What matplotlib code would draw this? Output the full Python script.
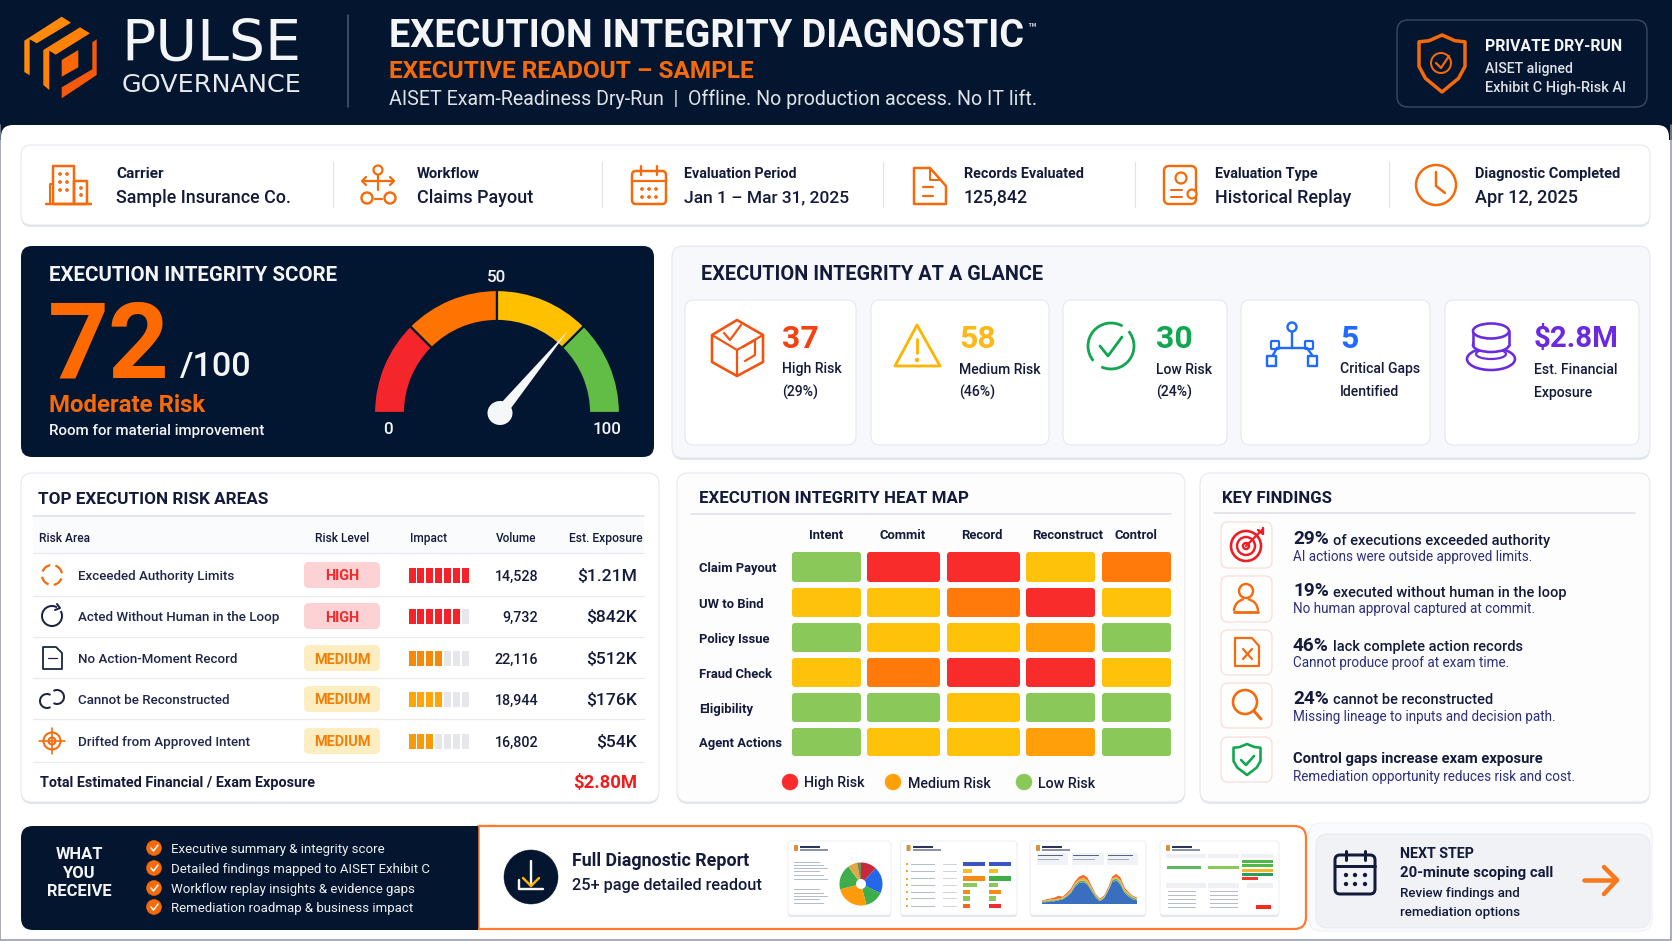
import matplotlib
matplotlib.use("Agg")
import numpy as np
import matplotlib.pyplot as plt
from matplotlib.patches import FancyBboxPatch, Circle, Wedge, Polygon, Ellipse, Arc, Rectangle

# ---- data ----
info_labels = ["Carrier", "Workflow", "Evaluation Period", "Records Evaluated", "Evaluation Type", "Diagnostic Completed"]
info_values = ["Sample Insurance Co.", "Claims Payout", "Jan 1 – Mar 31, 2025", "125,842", "Historical Replay", "Apr 12, 2025"]

score = 72
gauge_stops = [0, 25, 50, 75, 100]
gauge_ticks = [0, 50, 100]

glance_numbers = ["37", "58", "30", "5", "$2.8M"]
glance_line1 = ["High Risk", "Medium Risk", "Low Risk", "Critical Gaps", "Est. Financial"]
glance_line2 = ["(29%)", "(46%)", "(24%)", "Identified", "Exposure"]

risk_areas = ["Exceeded Authority Limits", "Acted Without Human in the Loop", "No Action-Moment Record",
              "Cannot be Reconstructed", "Drifted from Approved Intent"]
risk_levels = ["HIGH", "HIGH", "MEDIUM", "MEDIUM", "MEDIUM"]
impact_filled = [7, 6, 4, 4, 3]
impact_total = 7
volumes = ["14,528", "9,732", "22,116", "18,944", "16,802"]
exposures = ["$1.21M", "$842K", "$512K", "$176K", "$54K"]
total_exposure = "$2.80M"

heat_rows = ["Claim Payout", "UW to Bind", "Policy Issue", "Fraud Check", "Eligibility", "Agent Actions"]
heat_cols = ["Intent", "Commit", "Record", "Reconstruct", "Control"]
# 0 green, 1 yellow, 2 amber, 3 orange, 4 red
heat_values = [[0, 4, 4, 1, 3],
               [1, 1, 3, 4, 1],
               [0, 1, 1, 2, 0],
               [1, 3, 4, 4, 1],
               [0, 0, 1, 0, 0],
               [0, 1, 1, 2, 0]]

finding_pct = ["29%", "19%", "46%", "24%"]
finding_head = ["of executions exceeded authority", "executed without human in the loop",
                "lack complete action records", "cannot be reconstructed"]
finding_sub = ["AI actions were outside approved limits.", "No human approval captured at commit.",
               "Cannot produce proof at exam time.", "Missing lineage to inputs and decision path.",
               "Remediation opportunity reduces risk and cost."]

receive_items = ["Executive summary & integrity score", "Detailed findings mapped to AISET Exhibit C",
                 "Workflow replay insights & evidence gaps", "Remediation roadmap & business impact"]

pie_shares = [12, 20, 14, 25, 19, 7, 3]
area_blue = [2, 2, 3, 3, 4, 5, 8, 12, 19, 23, 24, 21, 14, 7, 3, 6, 14, 24, 26, 21, 12, 8, 5, 4]
area_green = [1, 1, 1, 1, 1, 1, 1, 1, 2, 2, 2, 2, 2, 2, 1, 1, 1, 2, 2, 2, 2, 2, 2, 1]
area_yellow = [1, 1, 1, 1, 1, 1, 1, 2, 2, 2, 3, 3, 2, 1, 1, 1, 1, 2, 2, 3, 2, 2, 1, 1]
area_orange = [0, 1, 1, 2, 3, 1, 2, 2, 2, 3, 3, 3, 2, 1, 1, 1, 2, 2, 3, 3, 2, 1, 1, 1]

# ---- colours ----
NAVY = "#04162f"
INK = "#141a3a"
ORANGE = "#f56a0a"
RED = "#f42a2a"
GREEN = "#12a650"
BLUE = "#1f6bff"
PURPLE = "#6a2be0"
AMBER = "#ffb400"
LINE = "#e4e6ec"
heat_colors = ["#8bc85a", "#ffc20a", "#ffa00a", "#ff7a0a", "#f92c2c"]
gauge_colors = ["#f5262b", "#ff7300", "#ffc000", "#62bd47"]

plt.rcParams["font.family"] = ["Roboto", "DejaVu Sans"]

fig = plt.figure(figsize=(16.72, 9.41), dpi=100)
ax = fig.add_axes([0, 0, 1, 1])
ax.set_xlim(0, 1672)
ax.set_ylim(941, 0)
ax.axis("off")
renderer = fig.canvas.get_renderer()


def T(x, y, s, px, c=INK, w="medium", ha="left", fit=None, z=10, fam=None):
    t = ax.text(x, y + 1.5, s, fontsize=px * 0.72, color=c, fontweight=w, ha=ha, va="center", zorder=z)
    if fam:
        t.set_family(fam)
    if fit:
        t.set_fontsize(t.get_fontsize() * fit / t.get_window_extent(renderer).width)
    return t


def rbox(x0, y0, x1, y1, r=8, fc="white", ec="none", lw=1, z=2, shadow=False):
    if shadow:
        rbox(x0, y0 + 2, x1, y1 + 2, r, fc="#e3e5ec", z=z)
    ax.add_patch(FancyBboxPatch((x0 + r, y0 + r), x1 - x0 - 2 * r, y1 - y0 - 2 * r,
                                boxstyle=f"round,pad={r},rounding_size={r}",
                                fc=fc, ec=ec, lw=lw * 0.72, zorder=z))


def line(pts, c, lw=2, z=6):
    xs, ys = zip(*pts)
    ax.plot(xs, ys, color=c, lw=lw * 0.72, zorder=z, solid_capstyle="round", solid_joinstyle="round")


def ring(x, y, r, c, lw=2, fc="none", z=6):
    ax.add_patch(Circle((x, y), r, fc=fc, ec=c, lw=lw * 0.72, zorder=z))


def arc(x, y, r, a0, a1, c, lw=2, z=6):
    ax.add_patch(Arc((x, y), 2 * r, 2 * r, theta1=a0, theta2=a1, ec=c, lw=lw * 0.72, zorder=z))


def poly(pts, fc="none", ec="none", lw=2, z=6):
    ax.add_patch(Polygon(pts, closed=True, fc=fc, ec=ec, lw=lw * 0.72, zorder=z, joinstyle="round"))


def shield(cx, top, w, h, c, lw=3, fc="none"):
    pts = [(cx, top), (cx + w * .28, top + h * .10), (cx + w / 2, top + h * .12), (cx + w / 2, top + h * .55),
           (cx + w * .36, top + h * .76), (cx, top + h), (cx - w * .36, top + h * .76), (cx - w / 2, top + h * .55),
           (cx - w / 2, top + h * .12), (cx - w * .28, top + h * .10)]
    poly(pts, fc=fc, ec=c, lw=lw)


# ---- page ----
fig.patch.set_facecolor("white")
ax.add_patch(Rectangle((0, 0), 1672, 140, fc=NAVY, ec="none", zorder=0))
rbox(1, 125, 1669, 980, r=12, fc="white", z=1)
line([(0, 125), (0, 940), (1671, 940), (1671, 125)], "#8e94a3", 1.5, z=1.5)

# ---- header ----
logo_a = [(24.3, 40.7), (61.7, 16.7), (71, 22.7), (36.7, 43.3), (29.7, 39.3), (29.7, 75.3), (24.3, 72)]
logo_b = [(43.3, 50), (80, 27.3), (90, 33.3), (55.7, 54.7), (49.3, 50.7), (49.3, 90), (43.3, 85)]
logo_c = [(61.7, 60), (78.3, 50), (78.3, 67.3), (61.7, 76.7)]
logo_d = [(96.7, 39.3), (96.7, 75), (61.7, 98.3), (61.7, 87.3), (87.7, 72), (92.3, 69.3), (92.3, 42.3)]
poly(logo_a, fc="#ff8a0c")
poly(logo_b, fc="#ff8206")
poly(logo_c, fc="#f9670a")
poly(logo_d, fc="#f6590c")
T(121, 44, "PULSE", 54, "#f4f5f7", fit=180, fam="DejaVu Sans", w="normal")
T(122, 83, "GOVERNANCE", 23, "#e8eaee", fit=180, fam="DejaVu Sans", w="normal")
line([(348, 15), (348, 107)], "#4c5a70", 1.5)
T(389, 35, "EXECUTION INTEGRITY DIAGNOSTIC", 36, "#f4f5f7", "bold", fit=636)
T(1027, 27, "™", 14, "#d0d4da", "bold")
T(389, 70, "EXECUTIVE READOUT – SAMPLE", 24, ORANGE, "bold", fit=366)
T(389, 98, "AISET Exam-Readiness Dry-Run  |  Offline. No production access. No IT lift.", 19, "#dfe3e8", fit=651, w="normal")
rbox(1397, 20, 1647, 107, r=11, fc=NAVY, ec="#36465c", lw=1.5)
shield(1442, 35, 46, 57, ORANGE, 3.5)
ring(1441, 63, 10, ORANGE, 2)
line([(1436, 63), (1441, 68), (1449, 56)], ORANGE, 2.2)
T(1485, 45, "PRIVATE DRY-RUN", 15.5, "#f4f5f7", "bold", fit=137)
T(1485, 67, "AISET aligned", 14, "#dfe3e8", fit=88)
T(1485, 86, "Exhibit C High-Risk AI", 14, "#dfe3e8", fit=141)

# ---- info strip ----
rbox(21, 145, 1650, 225, r=10, ec=LINE, shadow=True)
info_x = [116, 417, 684, 964, 1215, 1475]
info_fit = [48, 63, 113, 121, 103, 146]
value_fit = [175, 116, 165, 64, 136, 103]
for x, a, b, f1, f2 in zip(info_x, info_labels, info_values, info_fit, value_fit):
    T(x, 172, a, 14, INK, "bold", fit=f1)
    T(x, 196, b, 18, INK, fit=f2)
for x in [333, 602, 883, 1135, 1389]:
    line([(x, 162), (x, 207)], "#e2e4ea", 1.2)

# building
line([(46, 204), (91, 204)], ORANGE, 2.5)
poly([(53, 204), (53, 166), (74, 166), (74, 204)], ec=ORANGE, lw=2.5)
poly([(74, 181), (87, 181), (87, 204), (74, 204)], ec=ORANGE, lw=2.5)
line([(50, 204), (50, 184), (53, 184)], ORANGE, 2)
for wx in (60, 67):
    for wy in (174, 182, 190):
        ring(wx, wy, 1.1, ORANGE, 1.5, ORANGE)
for wy in (188, 195):
    ring(81, wy, 1.1, ORANGE, 1.5, ORANGE)
# workflow
ring(378, 170, 4.5, ORANGE, 2.2)
line([(378, 175), (378, 190)], ORANGE, 2.2)
line([(364, 181), (392, 181)], ORANGE, 2.2)
line([(366, 177), (362, 181), (366, 185)], ORANGE, 2.2)
line([(390, 177), (394, 181), (390, 185)], ORANGE, 2.2)
ring(367, 198, 5.5, ORANGE, 2.4)
ring(390, 198, 5.5, ORANGE, 2.4)
line([(375, 199), (382, 199)], ORANGE, 2.2)
# calendar
rbox(632, 171, 666, 204, r=4, fc="none", ec=ORANGE, lw=2.5, z=6)
line([(632, 181), (666, 181)], ORANGE, 2.2)
line([(641, 166), (641, 175)], ORANGE, 2.2)
line([(657, 166), (657, 175)], ORANGE, 2.2)
for dx in (642, 649, 656):
    for dy in (189, 197):
        ring(dx, dy, 1.1, ORANGE, 1.5, ORANGE)
# document
poly([(914, 168), (930, 168), (946, 186), (946, 204), (914, 204)], ec=ORANGE, lw=2.5)
line([(930, 168), (930, 180), (941, 180)], ORANGE, 2)
line([(923, 187), (933, 187)], ORANGE, 2.2)
line([(923, 196), (933, 196)], ORANGE, 2.2)
# evaluation type
rbox(1164, 166, 1196, 204, r=5, fc="white", ec=ORANGE, lw=2.4, z=6)
ring(1181, 178, 5.5, ORANGE, 2.2)
line([(1171, 190), (1182, 190)], ORANGE, 2)
line([(1171, 197), (1182, 197)], ORANGE, 2)
ring(1192, 194, 4.5, ORANGE, 2.2, fc="white", z=7)
# clock
ring(1436, 185, 20, ORANGE, 2.5)
line([(1436, 172), (1436, 186), (1445, 193)], ORANGE, 2.5)

# ---- score card ----
rbox(21, 246, 654, 457, r=11, fc="#031631")
T(49, 274, "EXECUTION INTEGRITY SCORE", 20, "#f4f5f7", "bold", fit=289)
T(48, 347, str(score), 100, "#ff6a00", "bold", fit=122)
T(180, 365, "/100", 35, "#f4f5f7", fit=72)
T(49, 404, "Moderate Risk", 24, ORANGE, "bold", fit=156)
T(49, 429, "Room for material improvement", 16, "#f4f5f7", fit=217)

gauge_c = (497, 413)
for v0, v1, col in zip(gauge_stops[:-1], gauge_stops[1:], gauge_colors):
    ax.add_patch(Wedge(gauge_c, 123, 180 + 1.8 * v0, 180 + 1.8 * v1, width=31, fc=col, ec="#031631", lw=1.6, zorder=4))
tip_a = np.radians(180 + 1.8 * score)
hub = (500, 413)
tip = (hub[0] + 107 * np.cos(tip_a), hub[1] + 107 * np.sin(tip_a))
nx, ny = -np.sin(tip_a), np.cos(tip_a)
poly([(hub[0] + 6 * nx, hub[1] + 6 * ny), tip, (hub[0] - 6 * nx, hub[1] - 6 * ny)], fc="#f6f7f9", z=7)
ax.add_patch(Ellipse(hub, 25, 24, fc="#f6f7f9", zorder=8))
for v, pos in zip(gauge_ticks, [(388, 428), (497, 276), (607, 428)]):
    T(pos[0], pos[1], str(v), 17, "#f4f5f7", ha="center")

# ---- at a glance ----
rbox(672, 246, 1650, 458, r=11, fc="#f7f8fb", ec=LINE, shadow=True)
T(701, 273, "EXECUTION INTEGRITY AT A GLANCE", 20, INK, "bold", fit=343)
card_x = [(685, 856), (871, 1049), (1063, 1227), (1241, 1430), (1445, 1639)]
num_x = [782, 959, 1156, 1340, 1534]
num_c = ["#f4410f", "#ffb81a", GREEN, BLUE, PURPLE]
for (x0, x1), nx0, col, n, a, b in zip(card_x, num_x, num_c, glance_numbers, glance_line1, glance_line2):
    rbox(x0, 300, x1, 445, r=9, fc="white", ec=LINE, z=3)
    T(nx0, 338, n, 32, col, "bold", fit=85 if len(n) > 2 else None)
    T(nx0, 368, a, 14, INK)
    T(nx0, 391, b, 14, INK)
# box
poly([(737, 320), (763, 335), (763, 362), (737, 376), (712, 362), (712, 335)], ec="#f4530f", lw=2.6)
line([(712, 335), (737, 350), (763, 335)], "#f4530f", 2.2)
line([(737, 350), (737, 376)], "#f4530f", 2.2)
line([(724, 333), (730, 340), (741, 325)], "#f4530f", 2.2)
line([(743, 347), (755, 340), (755, 355), (745, 361)], "#f4530f", 2.2)
# warning triangle
poly([(917, 325), (940, 366), (895, 366)], ec=AMBER, lw=2.8)
line([(917, 339), (917, 353)], AMBER, 2.8)
ring(917, 360, 1.2, AMBER, 2, AMBER)
# check circle
arc(1111, 346, 23, 140, 300, GREEN, 2.8)
arc(1111, 346, 23, 320, 115, GREEN, 2.8)
line([(1100, 346), (1108, 356), (1122, 337)], GREEN, 2.8)
# network
ring(1292, 327, 4.5, BLUE, 2.4)
line([(1292, 332), (1292, 348)], BLUE, 2.4)
line([(1277, 348), (1307, 348)], BLUE, 2.4)
line([(1277, 348), (1273, 355)], BLUE, 2.4)
line([(1307, 348), (1312, 355)], BLUE, 2.4)
poly([(1267, 356), (1276, 356), (1276, 366), (1267, 366)], ec=BLUE, lw=2.4)
poly([(1308, 356), (1317, 356), (1317, 366), (1308, 366)], ec=BLUE, lw=2.4)
rbox(1271, 341, 1279, 349, r=1, fc="none", ec=BLUE, lw=2.2, z=6)
rbox(1305, 341, 1313, 349, r=1, fc="none", ec=BLUE, lw=2.2, z=6)
# coins
ax.add_patch(Ellipse((1491, 359), 48, 22, fc="white", ec=PURPLE, lw=2.6 * 0.72, zorder=6))
ax.add_patch(Ellipse((1491, 354), 30, 10, fc="none", ec=PURPLE, lw=2.2 * 0.72, zorder=7))
ax.add_patch(Ellipse((1491, 345), 36, 14, fc="white", ec=PURPLE, lw=2.6 * 0.72, zorder=7))
ax.add_patch(Rectangle((1473, 331), 36, 14, fc="white", ec="none", zorder=7.1))
line([(1473, 331), (1473, 345)], PURPLE, 2.6, z=7.2)
line([(1509, 331), (1509, 345)], PURPLE, 2.6, z=7.2)
ax.add_patch(Ellipse((1491, 331), 36, 15, fc="white", ec=PURPLE, lw=2.6 * 0.72, zorder=7.3))

# ---- risk table ----
rbox(21, 473, 659, 802, r=11, ec=LINE, shadow=True)
T(38, 498, "TOP EXECUTION RISK AREAS", 16.5, INK, "bold", fit=230)
line([(33, 516), (644, 516)], "#dcdfe5", 1.5)
ax.add_patch(Rectangle((33, 517), 611, 36, fc="#fafbfc", ec="none", zorder=3))
T(39, 537, "Risk Area", 13, INK, fit=51)
T(342, 537, "Risk Level", 13, INK, ha="center", fit=54)
T(410, 537, "Impact", 13, INK, fit=37)
T(516, 537, "Volume", 13, INK, ha="center", fit=40)
T(643, 537, "Est. Exposure", 13, INK, ha="right", fit=74)
for y in [553, 596, 637, 678, 719, 762]:
    line([(33, y), (644, y)], "#e8eaef", 1.2, z=4)
row_y = [575, 616, 658, 699, 741]
badge_fill = {"HIGH": "#fdd2d5", "MEDIUM": "#fdeec2"}
badge_text = {"HIGH": "#ef2b2d", "MEDIUM": "#f57f06"}
bar_cols = ["#f5222a", "#f5222a", "#f58a0a", "#ffa50a", "#f99a0a"]
for y, name, lvl, n, vol, exp, bc in zip(row_y, risk_areas, risk_levels, impact_filled, volumes, exposures, bar_cols):
    T(78, y, name, 13.4, "#20264a")
    rbox(304, y - 13, 380, y + 13, r=5, fc=badge_fill[lvl], z=4)
    T(342, y, lvl, 14.5, badge_text[lvl], "bold", ha="center")
    for i in range(impact_total):
        ax.add_patch(Rectangle((408.5 + i * 8.95, y - 7.5), 7, 15, fc=bc if i < n else "#e6e7ea", ec="none", zorder=5))
    T(538, y, vol, 14.2, INK, ha="right")
    T(637, y, exp, 17.5, INK, ha="right")
T(40, 782, "Total Estimated Financial / Exam Exposure", 14.5, INK, "bold", fit=276)
T(637, 782, total_exposure, 18.5, "#f01c1c", "bold", ha="right")
# row icons
arc(52, 575, 10, 20, 80, ORANGE, 2.2)
arc(52, 575, 10, 110, 170, ORANGE, 2.2)
arc(52, 575, 10, 200, 260, ORANGE, 2.2)
arc(52, 575, 10, 290, 350, ORANGE, 2.2)
arc(52, 616, 10, 330, 300, "#1b2340", 2)
line([(57, 604), (60, 608), (55, 610)], "#1b2340", 2)
poly([(43, 647), (56, 647), (62, 653), (62, 669), (43, 669)], ec="#1b2340", lw=1.8)
line([(48, 658), (57, 658)], "#1b2340", 1.2)
arc(47, 701, 7, 60, 300, "#1b2340", 2)
arc(57, 697, 7, 240, 120, "#1b2340", 2)
ring(52, 741, 8.5, ORANGE, 2)
ring(52, 741, 3.5, ORANGE, 2)
line([(52, 728), (52, 754)], ORANGE, 1.6)
line([(39, 741), (65, 741)], ORANGE, 1.6)

# ---- heat map ----
rbox(677, 473, 1185, 802, r=11, fc="#fdfdfe", ec=LINE, shadow=True)
T(699, 497, "EXECUTION INTEGRITY HEAT MAP", 16.5, INK, "bold", fit=268)
line([(691, 514), (1171, 514)], "#dcdfe5", 1.5)
col_edges = [(792, 861), (867, 940), (947, 1020), (1026, 1095), (1102, 1171)]
row_edges = [(552, 582), (588, 617), (623, 652), (658, 687), (693, 722), (728, 756)]
col_lab_x = [826, 903, 982, 1068, 1136]
for x, c in zip(col_lab_x, heat_cols):
    T(x, 534, c, 13, INK, "bold", ha="center")
for i, r in enumerate(heat_rows):
    T(699, sum(row_edges[i]) / 2, r, 13, INK, "bold")
    for j, e in enumerate(col_edges):
        rbox(e[0], row_edges[i][0], e[1], row_edges[i][1], r=3, fc=heat_colors[heat_values[i][j]], z=3)
for x, tx, col, lab in zip([790, 893, 1024], [804, 908, 1038], ["#f92c2c", "#ffa00a", "#8bc85a"],
                           ["High Risk", "Medium Risk", "Low Risk"]):
    ring(x, 782, 8, col, 0.5, col)
    T(tx, 782, lab, 14.2, INK)

# ---- key findings ----
rbox(1200, 473, 1650, 802, r=11, fc="#fdfdfe", ec=LINE, shadow=True)
T(1222, 497, "KEY FINDINGS", 16.5, INK, "bold", fit=110)
line([(1214, 513), (1635, 513)], "#dcdfe5", 1.5)
box_y = [(522, 568), (576, 622), (630, 675), (683, 728), (737, 782)]
head_y = [538, 590, 644.5, 697.5]
sub_y = [556, 608, 662, 715, 776]
for (y0, y1) in box_y:
    rbox(1221, y0, 1272, y1, r=7, fc="white", ec="#f9dcd6", lw=1.2, z=3)
for y, pct, head in zip(head_y, finding_pct, finding_head):
    T(1293, y, pct, 19, INK, "bold")
    T(1333, y + 1, head, 14.6, INK, "medium")
T(1293, 757, "Control gaps increase exam exposure", 14.8, INK, "bold", fit=248)
for y, s in zip(sub_y, finding_sub):
    T(1293, y, s, 13.5, "#2c2f7a", "normal")
# target
ring(1246, 546, 15, "#ef1c24", 2.6)
ring(1246, 546, 9, "#ef1c24", 2.4)
ring(1246, 546, 3, "#ef1c24", 2.4)
line([(1246, 546), (1262, 530)], "#ef1c24", 2.2)
line([(1258, 530), (1263, 534), (1263, 528)], "#ef1c24", 2.4)
# person
ring(1246, 591, 7, ORANGE, 2.4)
line([(1234, 612), (1258, 612)], ORANGE, 2.8)
arc(1246, 611, 12, 180, 260, ORANGE, 2.4)
arc(1246, 611, 12, 280, 360, ORANGE, 2.4)
# document x
poly([(1235, 638), (1252, 638), (1259, 646), (1259, 666), (1235, 666)], ec=ORANGE, lw=2.2)
line([(1243, 649), (1252, 659)], ORANGE, 2.2)
line([(1252, 649), (1243, 659)], ORANGE, 2.2)
# magnifier
ring(1245, 702, 12, ORANGE, 2.6)
line([(1254, 711), (1261, 719)], ORANGE, 3)
# shield
shield(1247, 744, 27, 31, GREEN, 2.6)
line([(1241, 760), (1246, 765), (1254, 756)], GREEN, 2.6)

# ---- bottom strip ----
rbox(470, 826, 1306, 929, r=12, fc="white", ec="#ff7a30", lw=2.2, z=2)
rbox(21, 826, 494, 930, r=12, fc=NAVY, z=3)
ax.add_patch(Rectangle((479, 825), 16, 106, fc="white", ec="none", zorder=3.2))
line([(479, 826), (496, 826)], "#ff7a30", 2.2, z=3.3)
line([(479, 929), (496, 929)], "#ff7a30", 2.2, z=3.3)
line([(479, 826), (479, 929)], "#ff7a30", 1.5, z=3.3)
for y, s in zip([853, 872, 890], ["WHAT", "YOU", "RECEIVE"]):
    T(79, y, s, 16.5, "#f4f5f7", "bold", ha="center")
for y, s in zip([848, 868, 888, 907], receive_items):
    ring(154, y, 7.5, ORANGE, 0.5, ORANGE)
    line([(151, y), (153.5, y + 3), (158, y - 3)], "white", 1.5, z=7)
    T(171, y, s, 13.2, "#eef0f3", "normal")
ring(531, 877, 27, NAVY, 0.5, NAVY)
line([(531, 861), (531, 886)], "#f6f7f9", 2.4, z=7)
line([(523, 878), (531, 886), (539, 878)], AMBER, 2.4, z=7)
line([(519, 880), (519, 889), (543, 889)], "#f6f7f9", 2.4, z=7)
T(572, 860, "Full Diagnostic Report", 18, INK, "bold", fit=177)
T(572, 884, "25+ page detailed readout", 17, INK, fit=190)

# report thumbnails
thumbs = [(788, 891), (900.5, 1017), (1030, 1146), (1160, 1279)]
for x0, x1 in thumbs:
    rbox(x0, 841, x1, 915, r=3, fc="white", ec="#eceef2", lw=1, z=4, shadow=True)
    rbox(x0 + 6, 845, x0 + 10, 851, r=1, fc="#d8913a", z=5)
    ax.add_patch(Rectangle((x0 + 12, 845.5), 20, 2, fc="#2a3560", ec="none", zorder=5))
    ax.add_patch(Rectangle((x0 + 12, 849), 28, 1.6, fc="#8a93ad", ec="none", zorder=5))
# first thumb: findings list and pie
for i, y in enumerate([862, 865, 868, 871, 875, 879, 889, 893, 896, 899, 903]):
    ax.add_patch(Rectangle((794, y), 26 + (i % 3) * 4, 1.4, fc="#b5bccd", ec="none", zorder=5))
pie_cols = ["#c8283e", "#2468e8", "#3fae4a", "#ff9a0a", "#3fae4a", "#e0a846", "#7c8a52"]
a0 = -90
for share, col in zip(pie_shares, pie_cols):
    a1 = a0 + share * 3.6
    ax.add_patch(Wedge((861, 884), 21.5, a0, a1, width=16.5, fc=col, ec="none", zorder=5))
    a0 = a1
# second thumb: table rows
tb = [("#3a55c0", 22, "#3a55c0", 22), ("#f4c020", 9, "#f4c020", 9), ("#f58a14", 22, "#3fae4a", 22),
      ("#8bc85a", 14, "#8bc85a", 9), ("#f58a14", 7, "#f58a14", 12), ("#8bc85a", 7, "#8bc85a", 7),
      ("#f5651a", 7, "#ef2b2d", 12)]
for y, (c1, w1, c2, w2) in zip([863.5, 870.5, 878, 884.5, 891.5, 898, 905.5], tb):
    ax.add_patch(Rectangle((906, y - 0.5), 2, 2, fc="#f5a623", ec="none", zorder=5))
    ax.add_patch(Rectangle((911, y), 24, 1.4, fc="#b5bccd", ec="none", zorder=5))
    ax.add_patch(Rectangle((943, y), 14, 1.4, fc="#cfd4de", ec="none", zorder=5))
    ax.add_patch(Rectangle((963, y - 2), w1, 4.5, fc=c1, ec="none", zorder=5))
    ax.add_patch(Rectangle((989, y - 2), w2, 4.5, fc=c2, ec="none", zorder=5))
# third thumb: header blocks, chart added below
for x0, x1 in [(1037, 1068), (1072, 1104), (1107, 1138)]:
    ax.add_patch(Rectangle((x0, 853), x1 - x0, 12, fc="#f1f2f5", ec="none", zorder=5))
    ax.add_patch(Rectangle((x0 + 1, 855), x1 - x0 - 6, 1.4, fc="#59627e", ec="none", zorder=5.1))
    ax.add_patch(Rectangle((x0 + 1, 859), x1 - x0 - 10, 1.4, fc="#a0a8ba", ec="none", zorder=5.1))
# fourth thumb: sections with bars
for x0, x1, y0, y1 in [(1166, 1206, 854, 858), (1208, 1239, 854, 858), (1241, 1273, 854, 858),
                       (1166, 1206, 883, 888), (1208, 1239, 883, 888), (1247, 1273, 883, 888)]:
    ax.add_patch(Rectangle((x0, y0), x1 - x0, y1 - y0, fc="#eef0f3", ec="none", zorder=5))
ax.add_patch(Rectangle((1167, 866), 34, 3, fc="#5cb85c", ec="none", zorder=5))
ax.add_patch(Rectangle((1208, 866), 31, 3, fc="#8bc85a", ec="none", zorder=5))
for y, col, w in [(860, "#4fb848", 31), (864, "#4fb848", 31), (869, "#f7b52c", 31), (873, "#2a9d5a", 31), (876.5, "#ef3b2c", 16)]:
    ax.add_patch(Rectangle((1242, y), w, 3, fc=col, ec="none", zorder=5))
ax.add_patch(Rectangle((1256, 905), 15, 4, fc="#f4291f", ec="none", zorder=5))
for x in (1168, 1210):
    for y in (891, 895, 899, 903, 907):
        ax.add_patch(Rectangle((x, y), 28, 1.4, fc="#b5bccd", ec="none", zorder=5))

# next step
rbox(1309, 823, 1652, 931, r=12, fc="#fafbfc", ec="#eef0f3", z=2)
rbox(1316, 834, 1650, 928, r=12, fc="#f0f2f6", ec="#e8eaef", z=3)
rbox(1335, 855, 1375, 894, r=5, fc="none", ec=INK, lw=3, z=6)
line([(1335, 866), (1375, 866)], INK, 3)
line([(1346, 851), (1346, 860)], INK, 3)
line([(1365, 851), (1365, 860)], INK, 3)
for dx in (1346, 1355, 1365):
    for dy in (875, 884):
        ring(dx, dy, 1.4, INK, 1.5, INK)
T(1400, 852, "NEXT STEP", 14, INK, "bold", fit=74)
T(1400, 872, "20-minute scoping call", 15, INK, "bold", fit=153)
T(1400, 892, "Review findings and", 14.5, INK, fit=121)
T(1400, 911, "remediation options", 14.5, INK, fit=121)
line([(1584, 880), (1616, 880)], "#f7791c", 4.5)
line([(1604, 867), (1617, 880), (1604, 894)], "#f7791c", 4.5)

# area chart in the third thumbnail
ax2 = fig.add_axes([1042 / 1672, 1 - 904 / 941, 95 / 1672, 31 / 941])
ax2.stackplot(range(len(area_blue)), area_blue, area_green, area_yellow, area_orange,
              colors=["#3a6fc0", "#5fa878", "#f4b52c", "#f0682a"], lw=0)
ax2.set_xlim(0, len(area_blue) - 1)
ax2.set_ylim(0, 34)
ax2.axis("off")

fig.savefig("out.png", dpi=100)
